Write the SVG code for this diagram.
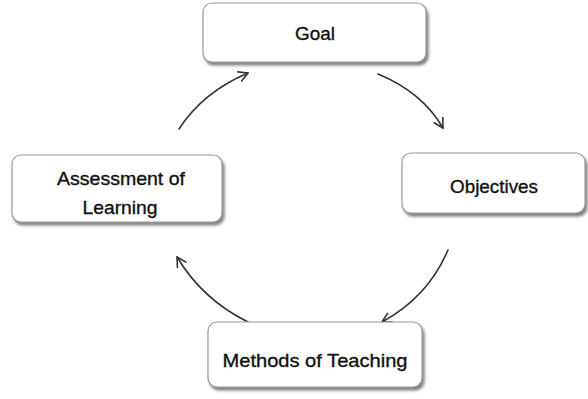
<svg xmlns="http://www.w3.org/2000/svg" width="588" height="399" viewBox="0 0 588 399">
  <style>
    .box { fill: #ffffff; stroke: #9a9a9a; stroke-width: 1.2; filter: url(#shadow); }
    .label { font-family: "Liberation Sans", Arial, sans-serif; font-size: 19px; fill: #111111; stroke: #111111; stroke-width: 0.35; text-anchor: middle; }
    .arc { fill: none; stroke: #333333; stroke-width: 1.6; stroke-linecap: round; marker-end: url(#head); }
  </style>
  <defs>
    <filter id="shadow" x="-10%" y="-20%" width="125%" height="150%">
      <feDropShadow dx="2" dy="3" stdDeviation="1.6" flood-color="#444444" flood-opacity="0.7"/>
    </filter>
    <marker id="head" viewBox="0 0 12 12" refX="10" refY="6" markerWidth="12" markerHeight="12" markerUnits="userSpaceOnUse" orient="auto">
      <path d="M1,1 L10,6 L1,11" fill="none" stroke="#333333" stroke-width="1.6" stroke-linecap="round" stroke-linejoin="round"/>
    </marker>
  </defs>

  <rect width="588" height="399" fill="#ffffff"/>

  <!-- connectors: the four curved arrows of the cycle -->
  <g id="connectors">
    <path class="arc" d="M179,129 Q203,92 248,73"/>
    <path class="arc" d="M378,74 Q422,92 443,128"/>
    <path class="arc" d="M448,250 Q428,297 382,322"/>
    <path class="arc" d="M248,322 Q203,300 177,257"/>
  </g>

  <g id="goal">
    <rect class="box" x="203" y="3" width="223" height="59" rx="9"/>
    <text class="label" x="315" y="40" textLength="40" lengthAdjust="spacingAndGlyphs">Goal</text>
  </g>

  <g id="objectives">
    <rect class="box" x="402" y="153" width="183" height="60" rx="9"/>
    <text class="label" x="494" y="193" textLength="88" lengthAdjust="spacingAndGlyphs">Objectives</text>
  </g>

  <g id="methods">
    <rect class="box" x="208" y="322" width="214" height="65" rx="9"/>
    <text class="label" x="315" y="367" textLength="185" lengthAdjust="spacingAndGlyphs">Methods of Teaching</text>
  </g>

  <g id="assessment">
    <rect class="box" x="12" y="155" width="210" height="67" rx="9"/>
    <text class="label" x="121" y="185" textLength="128" lengthAdjust="spacingAndGlyphs">Assessment of</text>
    <text class="label" x="120" y="214" textLength="75" lengthAdjust="spacingAndGlyphs">Learning</text>
  </g>
</svg>
